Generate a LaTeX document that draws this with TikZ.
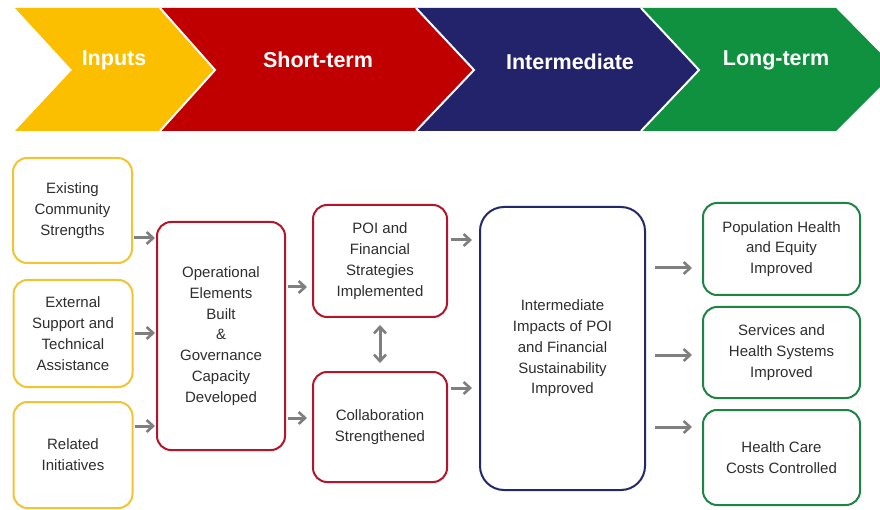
\documentclass[tikz,border=0pt]{standalone}
\usepackage{fontspec}
\setmainfont{Liberation Sans}
\usetikzlibrary{arrows.meta}
\definecolor{cyel}{HTML}{FBBF00}
\definecolor{cred}{HTML}{C00000}
\definecolor{cblue}{HTML}{22236B}
\definecolor{cgreen}{HTML}{0F9140}
\definecolor{byel}{HTML}{F2C433}
\definecolor{bred}{HTML}{B5152A}
\definecolor{bblue}{HTML}{23286A}
\definecolor{bgreen}{HTML}{1E8444}
\definecolor{carr}{HTML}{7F7F7F}
\definecolor{ctxt}{HTML}{2E2E2E}
\tikzset{
  boxst/.style={draw, line width=2pt, rounded corners=14pt, fill=white, inner sep=0pt,
    align=center, text=ctxt, font=\fontsize{15}{20.8}\selectfont},
  ybox/.style={boxst, draw=byel},
  rbox/.style={boxst, draw=bred},
  bbox/.style={boxst, draw=bblue},
  gbox/.style={boxst, draw=bgreen},
  tip/.style={},
  arr/.style={draw=carr, line width=3pt, -{Straight Barb[length=6.5pt,width=12pt,line width=2.6pt]}},
  darr/.style={draw=carr, line width=3pt, {Straight Barb[length=6.5pt,width=12pt,line width=2.6pt]}-{Straight Barb[length=6.5pt,width=12pt,line width=2.6pt]}},
  chev/.style={draw=white, line width=2pt},
  chevtxt/.style={text=white, font=\fontsize{21.5}{24}\bfseries\selectfont}
}
\begin{document}
\begin{tikzpicture}[x=1pt,y=-1pt]
\useasboundingbox (0,0) rectangle (880,510);
\clip (0,0) rectangle (880,510);
% chevrons
\fill[cgreen] (641,8) -- (836,8) -- (897,70) -- (836,131) -- (641,131) -- (699,70) -- cycle;
\fill[cblue] (416,8) -- (641,8) -- (699,70) -- (641,131) -- (416,131) -- (474,70) -- cycle;
\fill[cred] (160,8) -- (416,8) -- (474,70) -- (416,131) -- (160,131) -- (215,70) -- cycle;
\fill[cyel] (15,8) -- (160,8) -- (215,70) -- (160,131) -- (15,131) -- (72,70) -- cycle;
\draw[chev] (160,8) -- (215,70) -- (160,131);
\draw[chev] (416,8) -- (474,70) -- (416,131);
\draw[chev] (641,8) -- (699,70) -- (641,131);
\node[chevtxt] (hin) at (114,60) {Inputs};
\node[chevtxt] (hst) at (318,60) {Short-term};
\node[chevtxt] (him) at (570,62) {Intermediate};
\node[chevtxt] (hlt) at (776,60) {Long-term};
% input boxes
\node[ybox, minimum width=119pt, minimum height=105pt] (ecs) at (72.5,210.5) {Existing\\Community\\Strengths};
\node[ybox, minimum width=119pt, minimum height=107pt] (est) at (73,333.5) {External\\Support and\\Technical\\Assistance};
\node[ybox, minimum width=119pt, minimum height=106pt] (ri) at (73,455) {Related\\Initiatives};
% operational
\node[rbox, minimum width=128pt, minimum height=228pt] (op) at (221,336) {Operational\\Elements\\Built\\\&\\Governance\\Capacity\\Developed};
% short-term
\node[rbox, minimum width=134pt, minimum height=112pt] (poi) at (380,261) {POI and\\Financial\\Strategies\\Implemented};
\node[rbox, minimum width=134pt, minimum height=110pt] (col) at (380,427) {Collaboration\\Strengthened};
% intermediate
\node[bbox, rounded corners=24pt, minimum width=165pt, minimum height=283pt] (imp) at (562.5,348.5) {Intermediate\\Impacts of POI\\and Financial\\Sustainability\\Improved};
% long-term
\node[gbox, minimum width=157pt, minimum height=92pt] (pop) at (781.5,249) {Population Health\\and Equity\\Improved};
\node[gbox, minimum width=157pt, minimum height=91pt] (ser) at (781.5,352.5) {Services and\\Health Systems\\Improved};
\node[gbox, minimum width=157pt, minimum height=95pt] (hcc) at (781.5,457.5) {Health Care\\Costs Controlled};
% connectors
\draw[arr, shorten <=1pt, shorten >=1pt] (ecs.east |- 0,238) -- (op.west |- 0,238);
\draw[arr, shorten <=1pt, shorten >=1pt] (est.east |- 0,333) -- (op.west |- 0,333);
\draw[arr, shorten <=1pt, shorten >=1pt] (ri.east |- 0,426) -- (op.west |- 0,426);
\draw[arr, shorten <=2pt, shorten >=5pt] (op.east |- 0,287) -- (poi.west |- 0,287);
\draw[arr, shorten <=2pt, shorten >=5pt] (op.east |- 0,418) -- (col.west |- 0,418);
\draw[arr, shorten <=3pt, shorten >=7pt] (poi.east |- 0,240) -- (imp.west |- 0,240);
\draw[arr, shorten <=3pt, shorten >=7pt] (col.east |- 0,388) -- (imp.west |- 0,388);
\draw[darr, shorten <=7pt, shorten >=8pt] (poi.south) -- (col.north);
\draw[arr, shorten <=9pt, shorten >=10pt] (imp.east |- 0,268) -- (pop.west |- 0,268);
\draw[arr, shorten <=9pt, shorten >=10pt] (imp.east |- 0,355) -- (ser.west |- 0,355);
\draw[arr, shorten <=9pt, shorten >=10pt] (imp.east |- 0,427) -- (hcc.west |- 0,427);
\end{tikzpicture}
\end{document}
